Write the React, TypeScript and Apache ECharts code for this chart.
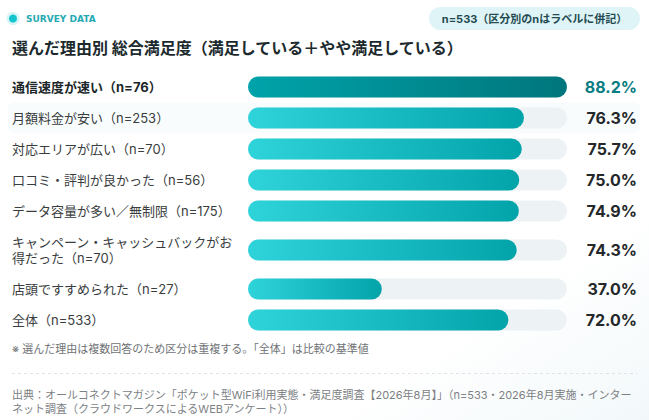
import React, { useEffect, useRef } from "react";
import * as echarts from "echarts";

const categories = [
  "通信速度が速い",
  "月額料金が安い",
  "対応エリアが広い",
  "口コミ・評判が良かった",
  "データ容量が多い／無制限",
  "キャンペーン・キャッシュバックがお得だった",
  "店頭ですすめられた",
  "全体",
];
const sampleSizes = [76, 253, 70, 56, 175, 70, 27, 533];
const satisfaction = [88.2, 76.3, 75.7, 75.0, 74.9, 74.3, 37.0, 72.0];
const emphasisIndex = 0;
const hoverIndex = 1;

const eyebrowText = "SURVEY DATA";
const badgeText = "n=533（区分別のnはラベルに併記）";
const titleText = "選んだ理由別 総合満足度（満足している＋やや満足している）";
const noteText = "※ 選んだ理由は複数回答のため区分は重複する。「全体」は比較の基準値";
const sourceLines = [
  "出典：オールコネクトマガジン「ポケット型WiFi利用実態・満足度調査【2026年8月】」（n=533・2026年8月実施・インター",
  "ネット調査（クラウドワークスによるWEBアンケート））",
];

const FONT = "Inter, 'Noto Sans CJK JP', sans-serif";
const LABEL_SIZE = 13;
const LABEL_WIDTH = 226;
const LINE_H = 16;
const ROW_PAD = 15;

function wrapLabel(text: string, bold: boolean): string[] {
  const ctx = document.createElement("canvas").getContext("2d");
  if (!ctx) return [text];
  ctx.font = `${bold ? "bold " : ""}${LABEL_SIZE}px ${FONT}`;
  const lines: string[] = [];
  let cur = "";
  for (const ch of Array.from(text)) {
    const next = cur + ch;
    if (cur && ctx.measureText(next).width > LABEL_WIDTH) {
      lines.push(cur);
      cur = ch;
    } else {
      cur = next;
    }
  }
  if (cur) lines.push(cur);
  return lines;
}

export default function App() {
  const ref = useRef<HTMLDivElement>(null);

  useEffect(() => {
    document.body.style.margin = "0";
    if (!ref.current) return;
    const chart = echarts.init(ref.current, undefined, { renderer: "svg" });

    const labels = categories.map((c, i) =>
      wrapLabel(`${c}（n=${sampleSizes[i]}）`, i === emphasisIndex)
    );
    const rowHeights = labels.map((l) => ROW_PAD + LINE_H * l.length);
    const centers: number[] = [];
    let acc = 0;
    rowHeights.forEach((h) => {
      centers.push(acc + h / 2);
      acc += h;
    });
    const total = acc;
    const xMax = Math.max(...satisfaction);
    const gridTop = 71.5;

    const option: any = {
      animation: false,
      backgroundColor: {
        type: "linear",
        x: 0,
        y: 0,
        x2: 1,
        y2: 1,
        colorStops: [
          { offset: 0, color: "#ffffff" },
          { offset: 0.75, color: "#ffffff" },
          { offset: 1, color: "#f2f8fa" },
        ],
      },
      grid: { left: 248, right: 82, top: gridTop, height: total },
      xAxis: { type: "value", min: 0, max: xMax, show: false },
      yAxis: { type: "value", min: 0, max: total, inverse: true, show: false },
      series: [
        {
          type: "custom",
          clip: false,
          encode: { x: 0, y: 1 },
          data: satisfaction.map((v, i) => [v, centers[i], i]),
          renderItem: (params: any, api: any) => {
            const i = params.dataIndex;
            const v = api.value(0);
            const yc = api.value(1);
            const cs = params.coordSys;
            const start = api.coord([0, yc]);
            const end = api.coord([v, yc]);
            const full = api.coord([xMax, yc]);
            const h = 21;
            const emph = i === emphasisIndex;
            const children: any[] = [];
            if (i === hoverIndex) {
              children.push({
                type: "rect",
                shape: { x: 8, y: start[1] - 15.5, width: 632, height: 31, r: 6 },
                style: { fill: "#f8fcfd" },
              });
            }
            children.push({
              type: "rect",
              shape: { x: start[0], y: start[1] - h / 2, width: full[0] - start[0], height: h, r: h / 2 },
              style: { fill: "#edf2f4" },
            });
            children.push({
              type: "rect",
              shape: { x: start[0], y: start[1] - h / 2, width: end[0] - start[0], height: h, r: h / 2 },
              style: {
                fill: {
                  type: "linear",
                  x: 0,
                  y: 0,
                  x2: 1,
                  y2: 0,
                  colorStops: emph
                    ? [
                        { offset: 0, color: "#00a3aa" },
                        { offset: 1, color: "#00767c" },
                      ]
                    : [
                        { offset: 0, color: "#2fd3da" },
                        { offset: 1, color: "#03a3aa" },
                      ],
                },
              },
            });
            children.push({
              type: "text",
              style: {
                text: labels[i].join("\n"),
                x: cs.x - 236,
                y: start[1],
                align: "left",
                verticalAlign: "middle",
                lineHeight: LINE_H,
                fontSize: LABEL_SIZE,
                fontFamily: FONT,
                fontWeight: emph ? "bold" : "normal",
                fill: emph ? "#1b2629" : "#3a3d40",
              },
            });
            children.push({
              type: "text",
              style: {
                text: `${v.toFixed(1)}%`,
                x: cs.x + cs.width + 70,
                y: start[1],
                align: "right",
                verticalAlign: "middle",
                fontSize: 16,
                fontFamily: FONT,
                fontWeight: "bold",
                fill: emph ? "#0a7c83" : "#24282b",
              },
            });
            return { type: "group", children };
          },
        },
      ],
      graphic: [
        { type: "circle", shape: { cx: 13, cy: 18.5, r: 6.5 }, style: { fill: "rgba(19,195,204,0.18)" } },
        { type: "circle", shape: { cx: 13, cy: 18.5, r: 4 }, style: { fill: "#12c4cd" } },
        {
          type: "text",
          style: {
            text: eyebrowText,
            x: 26,
            y: 18.5,
            verticalAlign: "middle",
            fontSize: 9,
            fontWeight: "bold",
            fontFamily: "'DejaVu Sans', sans-serif",
            fill: "#25a9b2",
          },
        },
        {
          type: "rect",
          shape: { x: 429, y: 7, width: 211, height: 23, r: 11.5 },
          style: { fill: "#dff4f7" },
        },
        {
          type: "text",
          style: {
            text: badgeText,
            x: 534.5,
            y: 18.5,
            align: "center",
            verticalAlign: "middle",
            fontSize: 11,
            fontWeight: "bold",
            fontFamily: FONT,
            fill: "#234b51",
          },
        },
        {
          type: "text",
          style: {
            text: titleText,
            x: 12,
            y: 48,
            verticalAlign: "middle",
            fontSize: 16,
            fontWeight: "bold",
            fontFamily: FONT,
            fill: "#1c2a2e",
          },
        },
        {
          type: "text",
          style: {
            text: noteText,
            x: 12,
            y: 349,
            verticalAlign: "middle",
            fontSize: 11,
            fontFamily: FONT,
            fill: "#6f7376",
          },
        },
        {
          type: "line",
          shape: { x1: 12, y1: 373.5, x2: 637, y2: 373.5 },
          style: { stroke: "#dde3e6", lineWidth: 1, lineDash: [3, 3] },
        },
        {
          type: "text",
          style: {
            text: sourceLines.join("\n"),
            x: 12,
            y: 402,
            verticalAlign: "middle",
            lineHeight: 14.5,
            fontSize: 11,
            fontFamily: FONT,
            fill: "#7d8184",
          },
        },
      ],
    };

    chart.setOption(option);
    return () => chart.dispose();
  }, []);

  return <div ref={ref} style={{ width: 649, height: 420 }} />;
}
